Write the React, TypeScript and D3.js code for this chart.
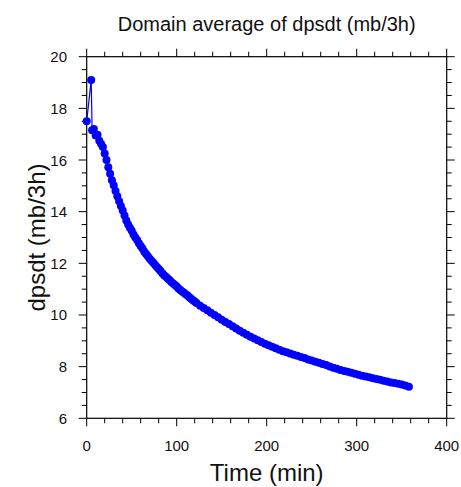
import React from "react";
import * as d3 from "d3";

const title = "Domain average of dpsdt (mb/3h)";
const xLabel = "Time (min)";
const yLabel = "dpsdt (mb/3h)";

const times: number[] = [
  0, 5, 6, 8, 10, 12, 14, 16, 18,
  20, 22, 24, 26, 28, 30, 32, 34, 36, 38, 40, 42, 44, 46, 48, 50, 52, 54, 56,
  58, 60, 62, 64, 66, 68, 70, 72, 74, 76, 78, 80, 82, 84, 86, 88, 90, 92, 94,
  96, 98, 100, 102, 104, 106, 108, 110, 112, 114, 116, 118, 120,
  122, 126, 130, 134, 138, 142, 146, 150,
  154, 158, 162, 166, 170, 174, 178, 182, 186, 190, 194, 198, 202, 206, 210,
  214, 218, 222, 226, 230, 234, 238, 242, 246, 250, 254, 258, 262, 266, 270,
  274, 278, 282, 286, 290, 294, 298, 302, 306, 310, 314, 318, 322, 326, 330,
  334, 338, 342, 346, 350, 354, 358,
];

const values: number[] = [
  17.5, 19.1, 17.15, 17.2, 16.95, 16.98, 16.75, 16.62, 16.5,
  16.25, 16.0, 15.72, 15.47, 15.22, 15.02, 14.8, 14.6, 14.4, 14.22, 14.05,
  13.85, 13.66, 13.5, 13.38, 13.26, 13.12, 13.0, 12.9,
  12.78, 12.67, 12.57, 12.45, 12.36, 12.27, 12.18, 12.1, 12.02, 11.94, 11.86,
  11.78, 11.7, 11.62, 11.54, 11.48, 11.41, 11.35, 11.28,
  11.22, 11.16, 11.1, 11.03, 10.97, 10.91, 10.86, 10.8, 10.75, 10.69, 10.63,
  10.57, 10.52,
  10.46, 10.36, 10.27, 10.18, 10.09, 10.0, 9.91, 9.82,
  9.73, 9.65, 9.56, 9.48, 9.39, 9.31, 9.23, 9.16, 9.09, 9.02, 8.95, 8.89, 8.83,
  8.77, 8.71,
  8.65, 8.6, 8.56, 8.51, 8.46, 8.42, 8.37, 8.33, 8.28, 8.24, 8.19, 8.15, 8.1,
  8.06, 8.01,
  7.96, 7.92, 7.87, 7.83, 7.8, 7.76, 7.72, 7.69, 7.65, 7.62, 7.59, 7.55, 7.52,
  7.49, 7.45,
  7.42, 7.39, 7.37, 7.34, 7.31, 7.27, 7.22,
];

const xMajor = [0, 100, 200, 300, 400];
const yMajor = [6, 8, 10, 12, 14, 16, 18, 20];

export default function App() {
  const W = 461;
  const H = 487;
  const x = d3.scaleLinear().domain([0, 400]).range([86.7, 446.7]);
  const y = d3.scaleLinear().domain([6, 20]).range([418.3, 56.7]);
  const xMinor = d3.range(0, 401, 20).filter((v) => v % 100 !== 0);
  const yMinor = d3.range(6, 20.01, 0.5).filter((v) => Math.abs(v % 2) > 1e-6);
  const pts = times.map((t, i) => [t, values[i]] as [number, number]);
  const line = d3
    .line<[number, number]>()
    .x((d) => x(d[0]))
    .y((d) => y(d[1]));
  const [x0, x1] = x.range();
  const [y0, y1] = y.range();
  const font = "'Liberation Sans', Arial, Helvetica, sans-serif";
  const maj = 8;
  const min = 5;
  const tickStroke = { stroke: "#000", strokeWidth: 1 };

  return (
    <svg
      width={W}
      height={H}
      style={{ position: "absolute", left: 0, top: 0, background: "#fff" }}
      fontFamily={font}
    >
      <text x={(x0 + x1) / 2} y={31} fontSize={20} textAnchor="middle" fill="#111">
        {title}
      </text>
      {xMajor.map((v) => (
        <g key={"xm" + v}>
          <line x1={x(v)} x2={x(v)} y1={y0} y2={y0 + maj} {...tickStroke} />
          <line x1={x(v)} x2={x(v)} y1={y1} y2={y1 - maj} {...tickStroke} />
          <text x={x(v)} y={451} fontSize={15} textAnchor="middle" fill="#111">
            {v}
          </text>
        </g>
      ))}
      {xMinor.map((v) => (
        <g key={"xn" + v}>
          <line x1={x(v)} x2={x(v)} y1={y0} y2={y0 + min} {...tickStroke} />
          <line x1={x(v)} x2={x(v)} y1={y1} y2={y1 - min} {...tickStroke} />
        </g>
      ))}
      {yMajor.map((v) => (
        <g key={"ym" + v}>
          <line x1={x0} x2={x0 - maj} y1={y(v)} y2={y(v)} {...tickStroke} />
          <line x1={x1} x2={x1 + maj} y1={y(v)} y2={y(v)} {...tickStroke} />
          <text
            x={67}
            y={y(v)}
            fontSize={15}
            textAnchor="end"
            dominantBaseline="central"
            fill="#111"
          >
            {v}
          </text>
        </g>
      ))}
      {yMinor.map((v) => (
        <g key={"yn" + v}>
          <line x1={x0} x2={x0 - min} y1={y(v)} y2={y(v)} {...tickStroke} />
          <line x1={x1} x2={x1 + min} y1={y(v)} y2={y(v)} {...tickStroke} />
        </g>
      ))}
      <rect
        x={x0}
        y={y1}
        width={x1 - x0}
        height={y0 - y1}
        fill="none"
        stroke="#000"
        strokeWidth={1.2}
      />
      <path d={line(pts) || ""} fill="none" stroke="#0000ff" strokeWidth={1.2} />
      {pts.map((p, i) => (
        <circle key={i} cx={x(p[0])} cy={y(p[1])} r={4} fill="#0000ff" />
      ))}
      <text x={(x0 + x1) / 2} y={481} fontSize={24} textAnchor="middle" fill="#111">
        {xLabel}
      </text>
      <text
        transform={`translate(45, ${(y0 + y1) / 2}) rotate(-90)`}
        fontSize={24}
        textAnchor="middle"
        fill="#111"
      >
        {yLabel}
      </text>
    </svg>
  );
}
